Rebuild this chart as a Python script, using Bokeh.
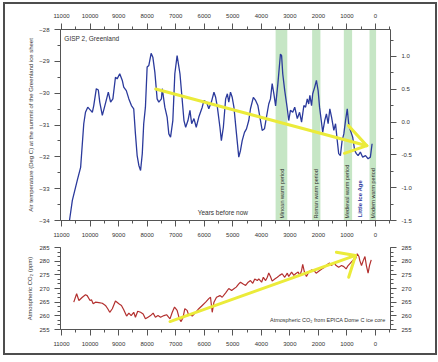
import math
from bokeh.plotting import figure
from bokeh.models import Range1d, LinearAxis, SingleIntervalTicker, NumeralTickFormatter, Label
from bokeh.layouts import column
from bokeh.embed import file_html
from bokeh.resources import INLINE
from bokeh.core.properties import value

FONT = "Liberation Sans"

# ---- GISP2 Greenland summit temperature (years before now, deg C) ----
gisp_years = [10720, 10620, 10450, 10330, 10220, 10160, 10080, 9980, 9920, 9870,
              9780, 9710, 9660, 9570, 9480, 9360, 9280, 9200, 9110, 9050,
              8960, 8870, 8820, 8730, 8640, 8550, 8470, 8410, 8350, 8290,
              8230, 8170, 8120, 8060, 8000, 7940, 7860, 7800, 7730, 7650,
              7590, 7500, 7470, 7380, 7300, 7240, 7180, 7100, 7030, 6950,
              6850, 6770, 6710, 6650, 6570, 6500, 6440, 6360, 6280, 6190,
              6070, 6010, 5920, 5840, 5750, 5660, 5600, 5540, 5450, 5400,
              5330, 5250, 5190, 5140, 5080, 5020, 4960, 4870, 4790, 4730,
              4670, 4590, 4520, 4440, 4380, 4280, 4200, 4120, 4050, 3970,
              3890, 3820, 3740, 3680, 3620, 3560, 3500, 3420, 3330, 3290,
              3250, 3180, 3090, 3040, 2980, 2900, 2830, 2740, 2660, 2590,
              2510, 2450, 2390, 2340, 2300, 2240, 2200, 2130, 2070, 2010,
              1960, 1900, 1850, 1780, 1720, 1660, 1600, 1540, 1460, 1400,
              1340, 1290, 1230, 1170, 1110, 1050, 990, 940, 880, 800,
              730, 670, 610, 530, 450, 350, 260, 180, 120]
gisp_temp = [-34.0, -33.37, -32.75, -32.33, -30.96, -30.6, -30.44, -30.54, -30.6, -30.39,
             -29.86, -29.9, -30.28, -30.7, -30.39, -29.97, -30.28, -30.18, -29.5, -29.55,
             -29.39, -29.6, -29.81, -29.92, -30.18, -30.39, -30.49, -31.28, -31.96, -32.27,
             -32.43, -31.9, -30.96, -30.44, -29.18, -29.13, -28.75, -28.87, -29.34, -30.18,
             -30.28, -30.18, -29.86, -30.44, -30.75, -31.28, -31.38, -30.86, -29.39, -28.82,
             -29.39, -30.23, -30.86, -31.07, -30.86, -30.54, -30.96, -30.8, -31.07, -30.75,
             -30.44, -30.23, -30.28, -30.49, -30.28, -29.97, -30.13, -30.44, -31.07, -31.49,
             -31.07, -30.18, -30.02, -30.28, -29.97, -30.13, -30.44, -31.28, -32.01, -31.8,
             -31.49, -31.23, -31.12, -30.86, -30.49, -30.13, -30.23, -30.39, -30.75, -31.17,
             -31.12, -30.75, -30.34, -30.18, -29.7, -30.02, -30.4, -29.7, -28.77, -28.82,
             -29.39, -29.92, -30.49, -30.86, -30.54, -30.6, -30.44, -30.8, -30.6, -30.91,
             -30.39, -30.44, -30.18, -30.34, -30.07, -30.39, -30.02, -29.81, -29.6, -29.92,
             -30.44, -30.86, -31.23, -30.86, -30.65, -30.96, -30.49, -30.75, -31.17, -30.96,
             -31.49, -31.9, -31.96, -31.49, -31.28, -30.86, -30.49, -30.96, -31.17, -31.38,
             -31.8, -31.9, -31.96, -31.85, -32.01, -31.96, -32.06, -32.01, -31.59]

# ---- EPICA Dome C CO2 (years before now, ppm) ----
co2_years = [10570, 10470, 10390, 10270, 10160, 10100, 10000, 9950, 9890, 9810,
             9690, 9570, 9460, 9380, 9310, 9220, 9110, 8990, 8900, 8820,
             8720, 8640, 8560, 8470, 8410, 8330, 8230, 8140, 8060, 7970,
             7880, 7790, 7710, 7620, 7530, 7410, 7320, 7200, 7120, 7040,
             6950, 6870, 6810, 6740, 6680, 6600, 6540, 6480, 6420, 6300,
             6190, 6070, 5950, 5840, 5780, 5720, 5660, 5570, 5450, 5370,
             5250, 5140, 5040, 4960, 4880, 4790, 4730, 4650, 4550, 4460,
             4380, 4300, 4230, 4140, 4090, 3990, 3930, 3850, 3790, 3740,
             3680, 3620, 3530, 3440, 3360, 3270, 3180, 3090, 3040, 2940,
             2860, 2800, 2710, 2650, 2590, 2550, 2490, 2420, 2340, 2240,
             2160, 2080, 1990, 1870, 1780, 1690, 1610, 1540, 1460, 1380,
             1290, 1190, 1110, 1030, 960, 880, 800, 700, 640, 580,
             550, 490, 430, 370, 320, 260, 210, 150]
co2_ppm = [265.0, 268.1, 265.6, 266.8, 267.7, 267.4, 265.6, 265.9, 264.4, 265.0,
           264.8, 264.6, 263.8, 262.6, 261.3, 262.6, 265.4, 264.4, 263.8, 262.2,
           259.9, 261.0, 260.1, 261.3, 259.5, 261.7, 261.3, 260.7, 258.9, 259.5,
           260.1, 261.0, 259.5, 260.1, 259.5, 260.1, 260.4, 258.9, 261.3, 263.2,
           262.0, 258.9, 257.9, 259.5, 262.6, 262.0, 260.1, 260.4, 259.9, 261.3,
           262.6, 263.8, 265.0, 266.3, 266.8, 261.3, 265.0, 266.8, 267.4, 266.8,
           268.4, 270.0, 269.3, 269.9, 270.5, 271.7, 272.3, 271.7, 271.1, 272.3,
           272.9, 271.9, 273.5, 272.9, 273.5, 272.3, 274.1, 272.9, 274.1, 275.7,
           274.4, 272.7, 273.5, 274.1, 274.8, 275.4, 274.1, 275.6, 274.4, 276.0,
           274.8, 275.4, 276.0, 274.8, 276.6, 278.8, 276.0, 274.4, 276.0, 276.8,
           276.6, 275.6, 276.3, 277.2, 277.8, 278.8, 279.3, 278.4, 279.6, 278.4,
           277.8, 278.4, 278.0, 277.2, 278.4, 279.3, 280.2, 280.9, 282.7, 281.7,
           280.2, 278.4, 280.2, 281.7, 278.4, 275.6, 278.4, 280.5]

# ---- Warm periods (shaded bands) ----
period_names = ["Minoan warm period", "Roman warm period", "Medieval warm period", "Modern warm period"]
period_start = [3500, 2220, 1110, 210]
period_end = [3090, 1930, 820, -20]
period_label_x = [3290, 2070, 1000, 100]
lia_name = ["Little Ice Age"]
lia_x = [530]

# ---- Trend arrows ----
temp_arrow_x = [7700, 300]
temp_arrow_y = [-29.87, -31.65]
temp_head_x = [950, 300, 1090]
temp_head_y = [-31.02, -31.65, -31.89]
co2_arrow_x = [7200, 700]
co2_arrow_y = [257.9, 282.1]
co2_head_x = [1370, 700, 940]
co2_head_y = [283.3, 282.1, 274.1]

# ---- Axes ranges / ticks ----
YEAR_START, YEAR_END = 11035, -525
TEMP_MIN, TEMP_MAX = -34, -28
ANOM_MIN, ANOM_MAX = -1.5, 1.41
CO2_MIN, CO2_MAX = 255, 285

BLUE = "#2b3a9c"
RED = "#b3302f"
YELLOW = "#ebeb3a"
GREEN = "#c6e6c5"
AXC = "#555555"
TXT = "#333333"


def style_axis(ax):
    ax.axis_line_color = AXC
    ax.axis_line_width = 1
    ax.major_tick_line_color = AXC
    ax.minor_tick_line_color = AXC
    ax.major_tick_out = 6
    ax.major_tick_in = 0
    ax.minor_tick_out = 3
    ax.minor_tick_in = 0
    ax.major_label_text_font = FONT
    ax.major_label_text_font_size = "6px"
    ax.major_label_text_color = TXT
    ax.major_label_standoff = 5
    ax.axis_label_text_font = FONT
    ax.axis_label_text_font_size = "6px"
    ax.axis_label_text_font_style = "normal"
    ax.axis_label_text_color = TXT


x_range = Range1d(YEAR_START, YEAR_END)

# ================= Top chart =================
p1 = figure(width=426, height=236, x_range=x_range, y_range=Range1d(TEMP_MIN, TEMP_MAX),
            output_backend="svg", toolbar_location=None,
            min_border_left=53, min_border_right=43, min_border_top=23, min_border_bottom=22,
            background_fill_color="white", border_fill_color="white", outline_line_color=None)
p1.extra_y_ranges = {"anom": Range1d(ANOM_MIN, ANOM_MAX)}
p1.xgrid.grid_line_color = None
p1.ygrid.grid_line_color = None

p1.xaxis.ticker = SingleIntervalTicker(interval=1000, num_minor_ticks=2)
p1.yaxis.ticker = SingleIntervalTicker(interval=1, num_minor_ticks=2)
p1.yaxis.axis_label = "Air temperature (Deg C) at the summit of the Greenland ice sheet"
p1.yaxis.axis_label_standoff = 2

top_ax = LinearAxis(ticker=SingleIntervalTicker(interval=1000, num_minor_ticks=2))
p1.add_layout(top_ax, "above")
right_ax = LinearAxis(y_range_name="anom", ticker=SingleIntervalTicker(interval=0.5, num_minor_ticks=2),
                      formatter=NumeralTickFormatter(format="0.0"))
p1.add_layout(right_ax, "right")
for ax in p1.xaxis + p1.yaxis:
    style_axis(ax)
p1.xaxis.major_label_standoff = 6

band_bottom = [TEMP_MIN] * len(period_start)
band_top = [TEMP_MAX] * len(period_start)
p1.quad(left=period_start, right=period_end, bottom=band_bottom, top=band_top,
        fill_color=GREEN, line_color=None)

p1.line(gisp_years, gisp_temp, line_color=BLUE, line_width=1.3)

p1.line(temp_arrow_x, temp_arrow_y, line_color=YELLOW, line_width=3, line_cap="round")
p1.line(temp_head_x, temp_head_y, line_color=YELLOW, line_width=3, line_cap="round", line_join="round")

band_text_y = [TEMP_MIN + 0.06] * len(period_names)
p1.text(x=period_label_x, y=band_text_y, text=period_names, angle=math.pi / 2,
        text_align="left", text_baseline="middle", text_font=value(FONT),
        text_font_size="5.5px", text_color=TXT)
p1.text(x=lia_x, y=[TEMP_MIN + 0.1], text=lia_name, angle=math.pi / 2,
        text_align="left", text_baseline="middle", text_font=value(FONT),
        text_font_size="6px", text_font_style="bold", text_color=BLUE)

p1.text(x=[10900], y=[-28.28], text=["GISP 2, Greenland"], text_align="left",
        text_baseline="middle", text_font=value(FONT), text_font_size="6.5px", text_color=TXT)
p1.text(x=[6230], y=[-33.75], text=["Years before now"], text_align="left",
        text_baseline="middle", text_font=value(FONT), text_font_size="6.5px", text_color=TXT)

# right-hand axis title, reading bottom-to-top, placed just outside the frame
right_title = Label(x=-1681, y=(TEMP_MIN + TEMP_MAX) / 2,
                    text="Approximate global temperature anomaly (Deg C)",
                    angle=math.pi / 2, text_align="center", text_baseline="middle",
                    text_font=FONT, text_font_size="6.5px", text_color=TXT)
p1.add_layout(right_title)

# small red marker for "now" under the time axis
now_mark = Label(x=50, y=TEMP_MIN, text="\u2588", text_font_size="8px", text_align="center",
                 text_baseline="top", text_color="#c9545a")
p1.add_layout(now_mark)

# ================= Bottom chart =================
p2 = figure(width=426, height=109, x_range=x_range, y_range=Range1d(CO2_MIN, CO2_MAX),
            output_backend="svg", toolbar_location=None,
            min_border_left=53, min_border_right=43, min_border_top=5, min_border_bottom=22,
            background_fill_color="white", border_fill_color="white", outline_line_color=None)
p2.xgrid.grid_line_color = None
p2.ygrid.grid_line_color = None
p2.xaxis.ticker = SingleIntervalTicker(interval=1000, num_minor_ticks=2)
p2.yaxis.ticker = SingleIntervalTicker(interval=5, num_minor_ticks=3)
p2.yaxis.axis_label = "Atmospheric CO\u2082 (ppm)"
p2.yaxis.axis_label_standoff = 3
right2 = LinearAxis(ticker=SingleIntervalTicker(interval=5, num_minor_ticks=3))
p2.add_layout(right2, "right")
for ax in p2.xaxis + p2.yaxis:
    style_axis(ax)
p2.xaxis.major_label_standoff = 6

p2.line(co2_years, co2_ppm, line_color=RED, line_width=1.2)
p2.line(co2_arrow_x, co2_arrow_y, line_color=YELLOW, line_width=3, line_cap="round")
p2.line(co2_head_x, co2_head_y, line_color=YELLOW, line_width=3, line_cap="round", line_join="round")
p2.text(x=[-350], y=[258.3], text=["Atmospheric CO\u2082 from EPICA Dome C ice core"],
        text_align="right", text_baseline="middle", text_font=value(FONT),
        text_font_size="5.5px", text_color=TXT)

layout = column(p1, p2, margin=(6, 0, 0, 7),
                styles={"outline": "2px solid #4d4d4d", "outline-offset": "2px"})

with open("out.html", "w") as f:
    f.write(file_html(layout, INLINE))
